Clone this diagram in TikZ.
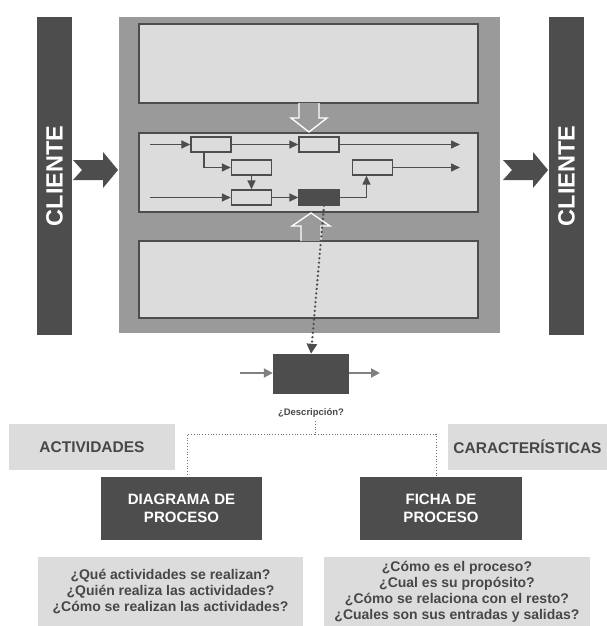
\documentclass[tikz,border=0pt]{standalone}
\usepackage{fontspec}
\setmainfont{Liberation Sans}
\usetikzlibrary{arrows.meta}
\definecolor{oscuro}{HTML}{4D4D4D}
\definecolor{medio}{HTML}{9A9A9A}
\definecolor{claro}{HTML}{DCDCDC}
\definecolor{letra}{HTML}{474747}

\begin{document}
\begin{tikzpicture}[x=1pt, y=-1pt,
    caja/.style={draw=oscuro, line width=1.4pt, fill=claro, inner sep=0pt},
    paso/.style={caja, minimum width=40pt, minimum height=15pt},
    flecha/.style={draw=oscuro, line width=1.5pt, -{Triangle[length=9pt,width=8pt]}},
    gflecha/.style={draw=gray, line width=2pt, -{Triangle[length=9pt,width=9pt]}},
    barra/.style={fill=oscuro, text=white, rotate=90, inner sep=0pt, minimum width=318pt, minimum height=35pt, font=\bfseries\fontsize{23.5}{24}\selectfont},
    oscura/.style={fill=oscuro, text=white, font=\bfseries\fontsize{15}{18}\selectfont, align=center, inner sep=0pt},
    etiqueta/.style={fill=claro, text=letra, font=\bfseries\fontsize{15.5}{18}\selectfont, inner sep=0pt},
    pregunta/.style={fill=claro, text=letra, font=\bfseries\fontsize{14}{16}\selectfont, align=center, inner sep=0pt},
    punteada/.style={draw=oscuro!80, line width=0.8pt, dotted},
    puntos/.style={draw=oscuro, line width=2.6pt, line cap=round, dash pattern=on 0pt off 4.4pt, -{Triangle[length=10pt,width=10pt]}},
    hueca/.style={draw=white, line width=1.3pt, fill=medio}]

    \useasboundingbox (0,0) rectangle (607,626); %画布大小
    \node[barra] (cliL) at (54.5,176) {CLIENTE}; %左边客户
    \node[barra] (cliR) at (566.5,176) {CLIENTE}; %右边客户
    \node[fill=medio, minimum width=381pt, minimum height=316pt, inner sep=0pt] (proc) at (309.5,175) {}; %灰色底
    \node[caja, minimum width=339pt, minimum height=79pt] (sup) at (308.5,63.5) {};
    \node[caja, minimum width=339pt, minimum height=79pt] (med) at (308.5,172.5) {};
    \node[caja, minimum width=339pt, minimum height=77pt] (inf) at (308.5,279.5) {};
    \draw[hueca] (299,103) -- (299,118) -- (291,118) -- (309,132) -- (327,118) -- (319,118) -- (319,103); %空心箭头
    \draw[hueca] (301,241) -- (301,226) -- (292,226) -- (311,213) -- (330,226) -- (321,226) -- (321,241);
    \fill[oscuro] (73,160) -- (103,160) -- (103,152) -- (118,170) -- (103,188) -- (103,180) -- (73,180) -- (82,170) -- cycle;
    \fill[oscuro] (503,160) -- (533,160) -- (533,152) -- (548,170) -- (533,188) -- (533,180) -- (503,180) -- (512,170) -- cycle;
%    流程小框
    \node[paso] (p1) at (211,144.5) {};
    \node[paso] (p2) at (319,144.5) {};
    \node[paso] (p3) at (251.5,167.5) {};
    \node[paso] (p4) at (372.5,167.5) {};
    \node[paso] (p5) at (251.5,197.5) {};
    \node[paso, fill=oscuro] (p6) at (319,197.5) {};
    \coordinate (e1) at (150,144.5); \coordinate (s1) at (460,144.5);
    \coordinate (e2) at (150,197.5); \coordinate (s2) at (460,167.5);
    \draw[flecha] (e1) -- (p1);
    \draw[flecha] (p1) -- (p2);
    \draw[flecha] (p2) -- (s1);
    \draw[flecha] ([xshift=-7pt]p1.south) |- (p3);
    \draw[flecha] (p3) -- (p5);
    \draw[flecha] (e2) -- (p5);
    \draw[flecha] (p5) -- (p6);
    \draw[flecha] (p6) -| ([xshift=-6pt]p4.south);
    \draw[flecha] (p4) -- (s2);
%    活动
    \node[fill=oscuro, minimum width=76pt, minimum height=40pt, inner sep=0pt] (act) at (311,374) {};
    \coordinate (ae) at (240,373); \coordinate (as) at (380,373);
    \draw[gflecha] (ae) -- (ae -| act.west);
    \draw[gflecha] (act.east |- as) -- (as);
    \draw[puntos] ([xshift=5pt]p6.south) -- (act.north);
    \node[text=letra, font=\bfseries\fontsize{9.5}{10}\selectfont] (desc) at (311,413) {¿Descripción?};
    \node[etiqueta, minimum width=166pt, minimum height=46pt] (actv) at (92,447) {ACTIVIDADES};
    \node[etiqueta, minimum width=159pt, minimum height=46pt] (carac) at (527.5,447) {CARACTERÍSTICAS};
    \node[oscura, minimum width=161pt, minimum height=63pt] (diag) at (181.5,508.5) {DIAGRAMA DE\\PROCESO};
    \node[oscura, minimum width=162pt, minimum height=63pt] (ficha) at (441,508.5) {FICHA DE\\PROCESO};
    \coordinate (j) at (315,434);
    \draw[punteada] (desc.south -| j) -- (j);
    \draw[punteada] (j) -| ([xshift=5.5pt]diag.north);
    \draw[punteada] (j) -| ([xshift=-5pt]ficha.north);
    \node[pregunta, minimum width=265pt, minimum height=69pt] (qdiag) at (170.5,591.5) {¿Qué actividades se realizan?\\¿Quién realiza las actividades?\\¿Cómo se realizan las actividades?};
    \node[pregunta, minimum width=266pt, minimum height=69pt] (qficha) at (457,591.5) {¿Cómo es el proceso?\\¿Cual es su propósito?\\¿Cómo se relaciona con el resto?\\¿Cuales son sus entradas y salidas?};
\end{tikzpicture}
\end{document}
